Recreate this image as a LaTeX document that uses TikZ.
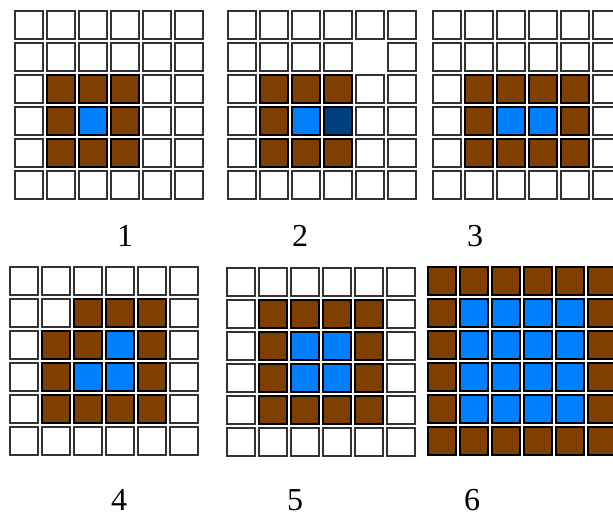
\documentclass[tikz,border=0pt]{standalone}
\usepackage{fontspec}
\setmainfont{Liberation Serif}
\definecolor{brownc}{HTML}{7F3F00}
\definecolor{bluec}{HTML}{0080FF}
\definecolor{darkbluec}{HTML}{003F7F}
\tikzset{
  cell/.style={draw=black!80, line width=2.4pt, minimum size=27.6pt, inner sep=0pt, outer sep=0pt, fill=white},
  lbl/.style={font=\fontsize{32}{32}\selectfont, inner sep=0pt}
}
\newcommand\cellgrid[3]{%
  \foreach \r in {0,...,5}{\foreach \c in {0,...,5}{
    \node[cell] (#1-\r-\c) at ({#2+15+32*\c},{#3+15+32*\r}) {};
  }}}
\newcommand\paintcells[5]{%
  \foreach \r/\c in {#5}{
    \node[cell, draw=black, fill=#4] (#1-\r-\c) at ({#2+15+32*\c},{#3+15+32*\r}) {};
  }}
\begin{document}
\begin{tikzpicture}[x=1pt,y=-1pt]
\useasboundingbox (0,0) rectangle (613,517);
% grid 1
\cellgrid{ga}{14}{10}
\paintcells{ga}{14}{10}{brownc}{2/1,2/2,2/3,3/1,3/3,4/1,4/2,4/3}
\paintcells{ga}{14}{10}{bluec}{3/2}
% grid 2
\cellgrid{gb}{227}{10}
\paintcells{gb}{227}{10}{brownc}{2/1,2/2,2/3,3/1,4/1,4/2,4/3}
\paintcells{gb}{227}{10}{bluec}{3/2}
\paintcells{gb}{227}{10}{darkbluec}{3/3}
\fill[white] ({227+32*4-1.5},{10+32*1-1.5}) rectangle ({227+32*4+31.5},{10+32*1+31.5});
% grid 3
\cellgrid{gc}{432}{10}
\paintcells{gc}{432}{10}{brownc}{2/1,2/2,2/3,2/4,3/1,3/4,4/1,4/2,4/3,4/4}
\paintcells{gc}{432}{10}{bluec}{3/2,3/3}
% grid 4
\cellgrid{gd}{9}{266}
\paintcells{gd}{9}{266}{brownc}{1/2,1/3,1/4,2/1,2/2,2/4,3/1,3/4,4/1,4/2,4/3,4/4}
\paintcells{gd}{9}{266}{bluec}{2/3,3/2,3/3}
% grid 5
\cellgrid{ge}{226}{267}
\paintcells{ge}{226}{267}{brownc}{1/1,1/2,1/3,1/4,2/1,2/4,3/1,3/4,4/1,4/2,4/3,4/4}
\paintcells{ge}{226}{267}{bluec}{2/2,2/3,3/2,3/3}
% grid 6
\paintcells{gf}{427}{266}{brownc}{0/0,0/1,0/2,0/3,0/4,0/5,5/0,5/1,5/2,5/3,5/4,5/5,1/0,2/0,3/0,4/0,1/5,2/5,3/5,4/5}
\paintcells{gf}{427}{266}{bluec}{1/1,1/2,1/3,1/4,2/1,2/2,2/3,2/4,3/1,3/2,3/3,3/4,4/1,4/2,4/3,4/4}
% labels
\node[lbl] (l1) at (125,236) {1};
\node[lbl] (l2) at (300,236) {2};
\node[lbl] (l3) at (475,236) {3};
\node[lbl] (l4) at (119,500) {4};
\node[lbl] (l5) at (295,500) {5};
\node[lbl] (l6) at (472,500) {6};
\end{tikzpicture}
\end{document}
